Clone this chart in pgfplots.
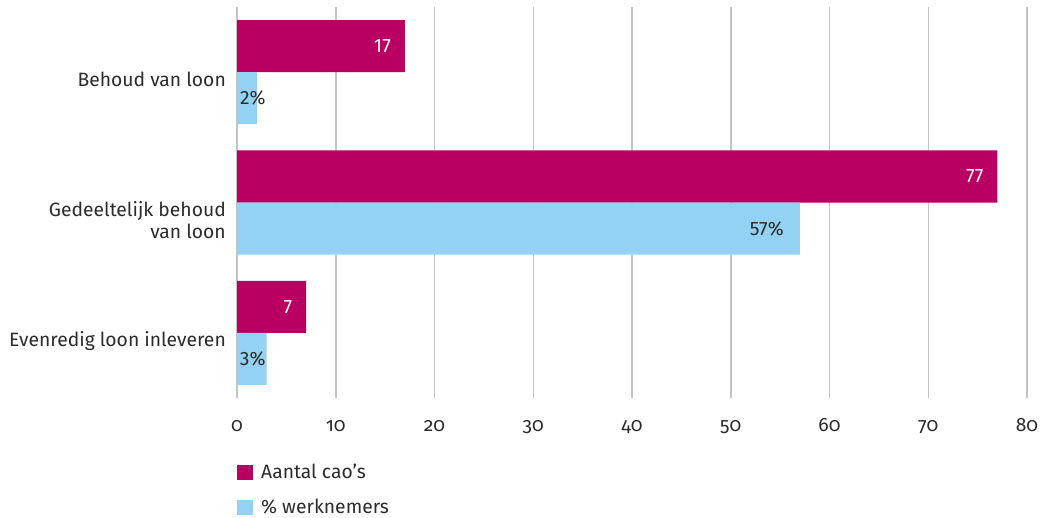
\documentclass[border=0pt]{standalone}
\usepackage{fontspec}
\setmainfont{Fira Sans}
\newfontfamily\osf{Fira Sans}[Numbers=OldStyle]
\usepackage{pgfplots}
\pgfplotsset{compat=1.18}
\definecolor{mag}{HTML}{B90062}
\definecolor{lblue}{HTML}{94D2F3}
\definecolor{txt}{HTML}{2B2B2B}
\definecolor{gridc}{HTML}{C4C4C4}
\newcommand{\fs}{\fontsize{19.3}{22}\selectfont}
\begin{document}
\begin{tikzpicture}[x=1pt,y=1pt]
\path[use as bounding box] (0,0) rectangle (1041,517);
\begin{axis}[
  at={(237pt,119pt)}, anchor=south west,
  scale only axis, width=790pt, height=391pt,
  xbar, bar width=52pt,
  xmin=0, xmax=80, ymin=-0.5, ymax=2.5,
  xtick={0,10,...,80},
  ytick={0,1,2},
  yticklabels={Evenredig loon inleveren,{\begin{tabular}[t]{@{}r@{}}Gedeeltelijk behoud\\van loon\end{tabular}},Behoud van loon},
  yticklabel style={anchor=base east, inner sep=0pt, xshift=-11pt, yshift=-14pt,
    font=\fs, text=txt},
  xticklabel style={anchor=base, inner sep=0pt, yshift=-33pt, font=\osf\fs, text=txt},
  /pgf/number format/assume math mode=true,
  axis line style={draw=none},
  major tick length=0pt,
  xmajorgrids, grid style={gridc, line width=1.5pt},
  legend style={at={(0,0)}, anchor=north west, draw=none, fill=none, yshift=-64pt,
    font=\fs, text=txt, row sep=15pt, inner sep=0pt,
    /tikz/every odd column/.append style={column sep=6pt}},
  legend cell align=left,
  legend image code/.code={\fill[#1] (0pt,-7.5pt) rectangle (16pt,7.5pt);},
  visualization depends on={x \as \rawx},
  nodes near coords style={font=\fs, inner sep=0pt, anchor=center},
]
\addplot[fill=mag, draw=none, bar shift=26pt,
  nodes near coords={\makebox[0pt][r]{\pgfmathprintnumber{\pgfplotspointmeta}}},
  every node near coord/.append style={text=white, xshift=-14pt}]
  coordinates {(17,2) (77,1) (7,0)};
\addplot[fill=lblue, draw=none, bar shift=-26pt,
  nodes near coords={\ifdim\rawx pt<5pt\makebox[0pt][l]{\pgfmathprintnumber{\pgfplotspointmeta}\%}\else\makebox[0pt][r]{\pgfmathprintnumber{\pgfplotspointmeta}\%}\fi},
  every node near coord/.append style={text=txt, xshift={(\rawx<5)*(3-\rawx*9.875)+(\rawx>=5)*(-16)}}]
  coordinates {(2,2) (57,1) (3,0)};
\legend{Aantal cao’s,\% werknemers}
\end{axis}
\end{tikzpicture}
\end{document}
